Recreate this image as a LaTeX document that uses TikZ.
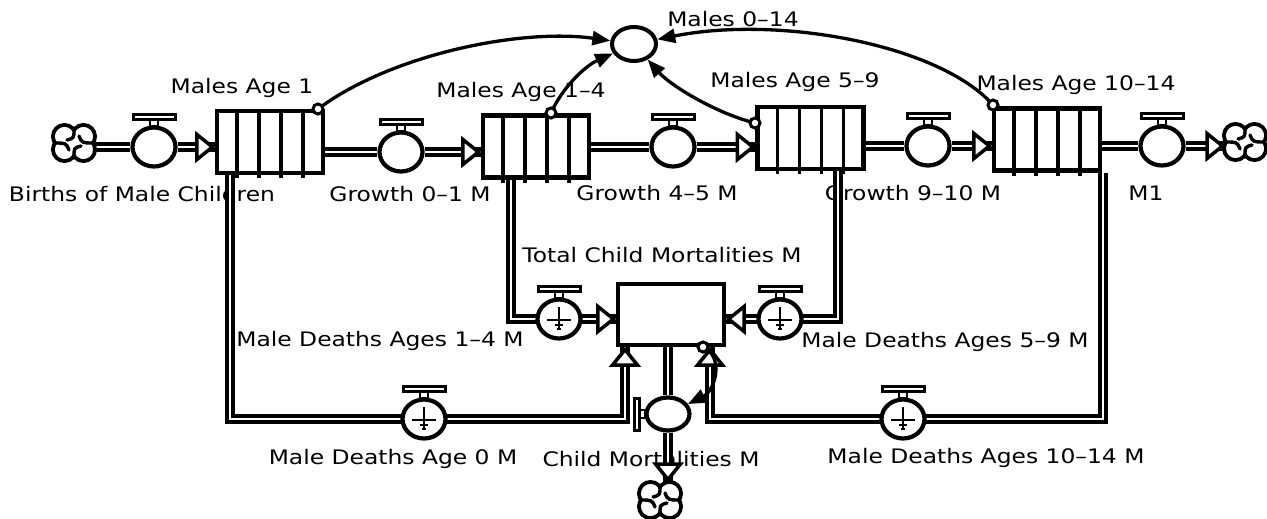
\documentclass[tikz,border=0pt]{standalone}
\usepackage{fontspec}
\setmainfont[FakeStretch=1.17]{DejaVu Sans}
\usetikzlibrary{arrows.meta,shapes.geometric,calc}
\pgfdeclarelayer{lab}
\pgfdeclarelayer{bg}
\pgfsetlayers{lab,bg,main}
\tikzset{
  lbl/.style={anchor=base, inner sep=0pt, font=\fontsize{20}{22}\selectfont},
  pipe/.style={draw=black, line width=4pt, double=white, double distance=2pt, line join=miter},
  valve/.style={ellipse, draw, fill=white, line width=4.2pt, minimum width=43pt, minimum height=39pt, inner sep=0pt},
  cmvalve/.style={valve, minimum height=33pt},
  aux/.style={ellipse, draw, fill=white, line width=4pt, minimum width=44pt, minimum height=34pt, inner sep=0pt},
  stock/.style={rectangle, draw, fill=white, line width=4.2pt, minimum width=106pt, minimum height=62pt, inner sep=0pt},
  totbox/.style={rectangle, draw, fill=white, line width=4.2pt, minimum width=106pt, minimum height=61pt, inner sep=0pt},
  link/.style={line width=3.3pt, -{Triangle[length=18pt,width=14pt]}},
  tailc/.style={line width=3pt, fill=white},
  cloud/.pic={
    \foreach \p in {(-9.5,-6.5),(9.5,-6.5),(-9.5,6.5),(9.5,6.5)} {\draw[line width=4pt] \p circle[radius=11.5];}
    \foreach \p in {(-9.5,-6.5),(9.5,-6.5),(-9.5,6.5),(9.5,6.5)} {\fill[white] \p circle[radius=9.4];}
    \fill[white] (-9.5,-6.5) rectangle (9.5,6.5);
    \draw[line width=3.4pt, line cap=round] (0,-13.5) .. controls (0,-5) .. (-7,-3);
    \draw[line width=3.4pt, line cap=round] (-19.5,0) .. controls (-8,0) .. (-5,7);
    \draw[line width=3.4pt, line cap=round] (0,13.5) .. controls (0,5) .. (7,3);
    \draw[line width=3.4pt, line cap=round] (19.5,0) .. controls (8,0) .. (5,-7);
  },
  gnd/.pic={
    \draw[line width=1.7pt] (0,-12) -- (0,9);
    \draw[line width=1.7pt] (-12,1) -- (12,1);
    \draw[line width=1.4pt] (-4,6) -- (4,6);
    \draw[line width=1.2pt] (-2,10) -- (2,10);
  },
  vtop/.pic={
    \draw[line width=2.2pt] (-4,-21) rectangle (4,-27);
    \draw[line width=3pt, fill=white] (-21,-33) rectangle (21,-28);
  },
  vleft/.pic={
    \draw[line width=2.2pt] (-22.5,-4) rectangle (-29,4);
    \draw[line width=3pt, fill=white] (-34,-16) rectangle (-29,16);
  },
  ptri/.pic={
    \draw[line width=3.5pt, fill=white, line join=miter] (-2.5,0) -- (-18,-12.5) -- (-18,12.5) -- cycle;
  }
}
\begin{document}
\begin{tikzpicture}[x=1pt,y=-1pt]
\useasboundingbox (0,0) rectangle (1267,519);

% ---------- nodes ----------
\coordinate (cL) at (74,143);
\coordinate (cR) at (1245,142);
\coordinate (cB) at (660,500);

\node[valve] (vB) at (154,147) {};
\node[stock] (s1) at (270,142) {};
\node[valve] (vG1) at (401,152) {};
\node[stock] (s2) at (536,146.5) {};
\node[valve] (vG4) at (673,147) {};
\node[stock] (s3) at (810.5,138) {};
\node[valve] (vG9) at (928,146) {};
\node[stock] (s4) at (1047,139.5) {};
\node[valve] (vM1) at (1162,146) {};

\node[aux] (m014) at (634,44) {};
\node[totbox] (tot) at (671,314.5) {};

\coordinate (c0) at (230,419);
\coordinate (j0) at (625,419);
\node[valve] (vD0) at (424,419) {};
\coordinate (c14) at (511,319);
\node[valve] (vD14) at (559,319) {};
\coordinate (c59) at (838,319);
\node[valve] (vD59) at (780,319) {};
\coordinate (c10) at (1103,419);
\coordinate (j10) at (710,419);
\node[valve] (vD10) at (903,419) {};
\node[cmvalve] (vCM) at (668,414) {};
\coordinate (tipCM) at (668,482);

% ---------- labels ----------
\begin{pgfonlayer}{lab}
\node[lbl] (lB)  at (142,201) {Births of Male Children};
\node[lbl] (lG1) at (410,201) {Growth 0–1 M};
\node[lbl] (lG4) at (657,200) {Growth 4–5 M};
\node[lbl] (lG9) at (913,200) {Growth 9–10 M};
\node[lbl] (lM1) at (1146,200) {M1};
\node[lbl] (lS1) at (242,93) {Males Age 1};
\node[lbl] (lS2) at (521,97) {Males Age 1–4};
\node[lbl] (lS3) at (795,88) {Males Age 5–9};
\node[lbl] (lS4) at (1076,91) {Males Age 10–14};
\node[lbl] (l014) at (733,27) {Males 0–14};
\node[lbl] (lTot) at (662,262) {Total Child Mortalities M};
\node[lbl] (lD14) at (380,346) {Male Deaths Ages 1–4 M};
\node[lbl] (lD59) at (945,347) {Male Deaths Ages 5–9 M};
\node[lbl] (lD0) at (393,464) {Male Deaths Age 0 M};
\node[lbl] (lCM) at (651,466) {Child Mortalities M};
\node[lbl] (lD10) at (986,463) {Male Deaths Ages 10–14 M};
\end{pgfonlayer}

% ---------- pipes ----------
\begin{pgfonlayer}{bg}
\draw[pipe] (cL |- vB) -- (vB) -- (s1.west |- vB);
\draw[pipe] (s1.east |- vG1) -- (vG1) -- (s2.west |- vG1);
\draw[pipe] (s2.east |- vG4) -- (vG4) -- (s3.west |- vG4);
\draw[pipe] (s3.east |- vG9) -- (vG9) -- (s4.west |- vG9);
\draw[pipe] (s4.east |- vM1) -- (vM1) -- (cR |- vM1);
\draw[pipe] (s1.south -| c0) -- (c0) -- (j0) -- (tot.south -| j0);
\draw[pipe] (s2.south -| c14) -- (c14) -- (tot.west |- c14);
\draw[pipe] (s3.south -| c59) -- (c59) -- (tot.east |- c59);
\draw[pipe] (s4.south -| c10) -- (c10) -- (j10) -- (tot.south -| j10);
\draw[pipe] (tot.south -| vCM) -- (vCM) -- (tipCM);
\end{pgfonlayer}

% valve details
\foreach \v in {vB,vG1,vG4,vG9,vM1,vD0,vD14,vD59,vD10}{\pic at (\v) {vtop};}
\foreach \v in {vD0,vD14,vD59,vD10}{\pic at (\v) {gnd};}
\pic at (vCM) {vleft};

% conveyor slats
\foreach \s in {s1,s2,s3,s4}{
  \foreach \i in {1,2,3,4}{
    \draw[line width=3.6pt] ($(\s.north west)!\i/5!(\s.north east)$) -- ($(\s.south west)!\i/5!(\s.south east)+(0,3)$);
  }
}

% pipe arrowheads
\pic at (s1.west |- vB) {ptri};
\pic at (s2.west |- vG1) {ptri};
\pic at (s3.west |- vG4) {ptri};
\pic at (s4.west |- vG9) {ptri};
\pic at ($(cR |- vM1)+(-20,0)$) {ptri};
\pic at (tot.west |- c14) {ptri};
\pic[rotate=180] at (tot.east |- c59) {ptri};
\pic[rotate=90] at (tot.south -| j0) {ptri};
\pic[rotate=90] at (tot.south -| j10) {ptri};
\pic[rotate=-90] at (tipCM) {ptri};

% clouds
\pic at (cL) {cloud};
\pic at (cR) {cloud};
\pic at (cB) {cloud};

% ---------- information links ----------
\coordinate (t1) at (318,109);
\coordinate (t2) at (551,113);
\coordinate (t3) at (755,123);
\coordinate (t4) at (993,105);
\coordinate (t5) at (703,347);
\draw[link] (t1) .. controls (390,55) and (520,28) .. (m014);
\draw[link] (t2) .. controls (562,88) and (585,66) .. (m014);
\draw[link] (t3) .. controls (715,113) and (670,85) .. (m014);
\draw[link] (t4) .. controls (940,45) and (780,15) .. (m014);
\draw[link] (t5) .. controls (724,356) and (716,390) .. (vCM);
\foreach \t in {t1,t2,t3,t4,t5}{\draw[tailc] (\t) circle[radius=5];}
\end{tikzpicture}
\end{document}
